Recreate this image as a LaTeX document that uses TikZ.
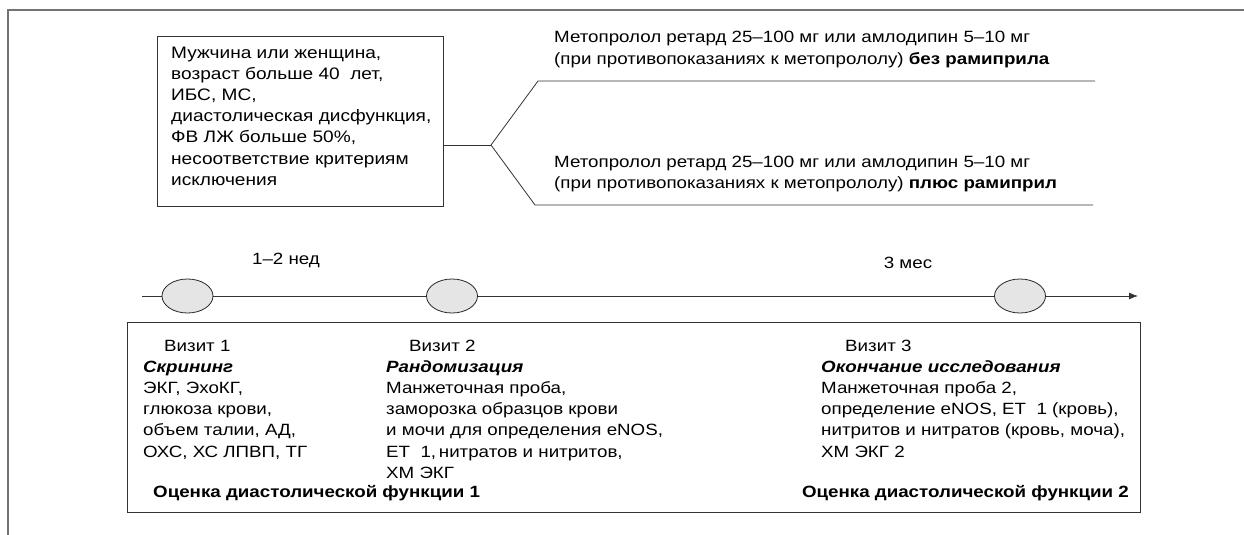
\documentclass[tikz,border=0pt]{standalone}
\usepackage{fontspec}
\setmainfont{Liberation Sans}[FakeStretch=1.15]
\usetikzlibrary{arrows.meta,shapes.geometric}
\begin{document}
\begin{tikzpicture}[x=1pt,y=-1pt,
  line/.style={draw=black!80, line width=0.8pt},
  boxnode/.style={draw=black!80, line width=0.8pt, inner sep=0pt},
  txt/.style={font=\fontsize{16.3}{21.2}\selectfont, align=left, inner sep=0pt},
  visit/.style={ellipse, draw=black!85, line width=0.8pt, fill=black!10, minimum width=51pt, minimum height=34pt, inner sep=0pt},
]
\useasboundingbox (0,0) rectangle (1244,535);
% outer frame (partial)
\draw[draw=black!55, line width=1.3pt] (1244,10) -- (8,10) -- (8,535);

% criteria box
\node[boxnode, anchor=north west, minimum width=286pt, minimum height=170pt] (crit) at (157,36) {};
% anchor = baseline of last line
\node[txt, anchor=base west, font=\fontsize{16.6}{21.2}\selectfont] (crittext) at (171,185.2) {Мужчина или женщина,\\возраст больше 40\ \ лет,\\ИБС, МС,\\диастолическая дисфункция,\\ФВ ЛЖ больше 50\%,\\несоответствие критериям\\исключения};

% branches
\coordinate (br) at (491,145);
\coordinate (t1) at (538,81);
\coordinate (t2) at (1095,81);
\coordinate (b1) at (535,205);
\coordinate (b2) at (1093,205);
\draw[line] (crit.east |- br) -- (br);
\draw[line] (br) -- (t1) -- (t2);
\draw[line] (br) -- (b1) -- (b2);

\node[txt, anchor=base west] (arm1) at (554,64.2) {Метопролол ретард 25–100 мг или амлодипин 5–10 мг\\(при противопоказаниях к метопрололу) \textbf{без рамиприла}};
\node[txt, anchor=base west] (arm2) at (554,188.2) {Метопролол ретард 25–100 мг или амлодипин 5–10 мг\\(при противопоказаниях к метопрололу) \textbf{плюс рамиприл}};

% timeline
\coordinate (tl0) at (142,296);
\coordinate (tl1) at (1138,296);
\draw[line, -{Latex[length=9pt,width=7pt]}] (tl0) -- (tl1);
\node[visit] (v1) at (187.5,296) {};
\node[visit] (v2) at (452,296) {};
\node[visit] (v3) at (1020,296) {};

\node[txt, anchor=base] (int1) at (286,264) {1–2 нед};
\node[txt, anchor=base] (int2) at (908,268) {3 мес};

% visits box
\node[boxnode, anchor=north west, minimum width=1013pt, minimum height=190pt] (visits) at (127,322) {};

\node[txt, anchor=base west] (c1) at (143,457) {\hspace*{21pt}Визит 1\\\textbf{\textit{Скрининг}}\\ЭКГ, ЭхоКГ,\\глюкоза крови,\\объем талии, АД,\\ОХС, ХС ЛПВП, ТГ};
\node[txt, anchor=base west] (c2) at (386,478.2) {\hspace*{23pt}Визит 2\\\textbf{\textit{Рандомизация}}\\Манжеточная проба,\\заморозка образцов крови\\и мочи для определения eNOS,\\ЕТ\ \ 1,\,нитратов и нитритов,\\ХМ ЭКГ};
\node[txt, anchor=base west] (c3) at (821,457) {\hspace*{24pt}Визит 3\\\textbf{\textit{Окончание исследования}}\\Манжеточная проба 2,\\определение eNOS, ЕТ\ \ 1 (кровь),\\нитритов и нитратов (кровь, моча),\\ХМ ЭКГ 2};

\node[txt, anchor=base west, font=\fontsize{16.3}{21.2}\selectfont\bfseries] (d1) at (153,497) {Оценка диастолической функции 1};
\node[txt, anchor=base east, font=\fontsize{16.3}{21.2}\selectfont\bfseries] (d2) at (1129,497) {Оценка диастолической функции 2};
\end{tikzpicture}
\end{document}
